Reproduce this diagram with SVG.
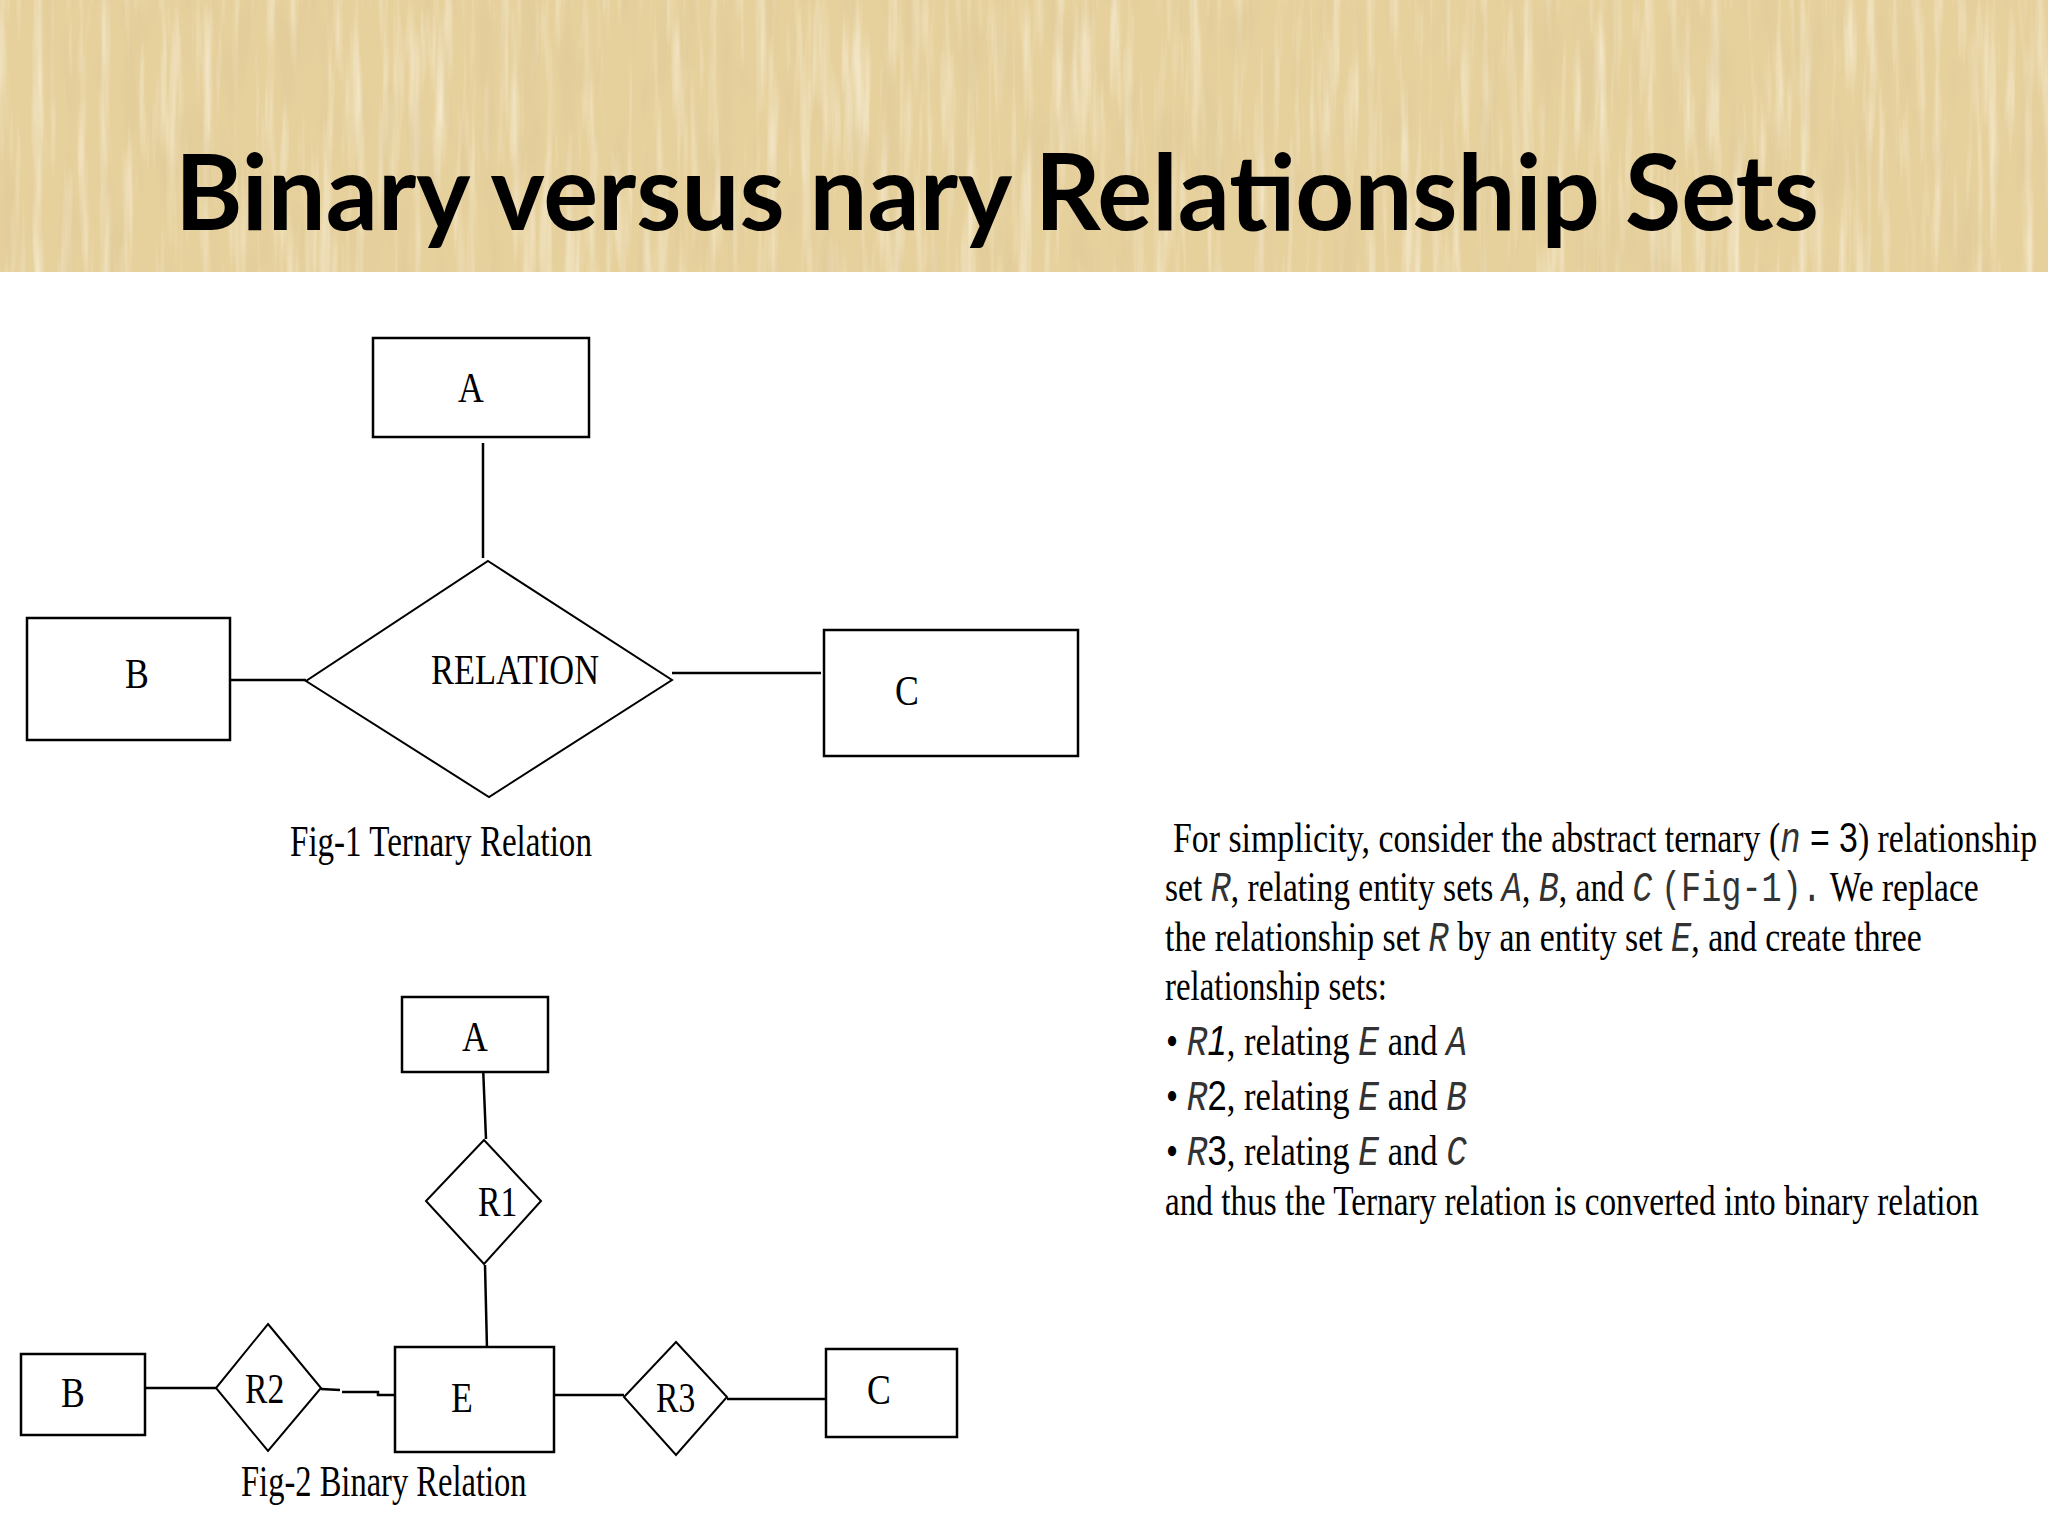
<svg xmlns="http://www.w3.org/2000/svg" width="2048" height="1536" viewBox="0 0 2048 1536">
<defs>
<style>
.ent{fill:#fff;stroke:#000;stroke-width:2.5}
.rel{fill:#fff;stroke:#000;stroke-width:2}
.con{fill:none;stroke:#000;stroke-width:2.5}
.lbl{font-family:"Liberation Serif","Times New Roman",serif;font-size:42px;fill:#000}
.cap{font-family:"Liberation Serif","Times New Roman",serif;font-size:44px;fill:#000}
.body{font-family:"Liberation Serif","Times New Roman",serif;font-size:42px;fill:#000}
.m{font-family:"Liberation Mono","Courier New",monospace;font-style:italic;fill:#333}
.mn{font-family:"Liberation Mono","Courier New",monospace;fill:#333}
.s{font-family:"Liberation Sans",Arial,sans-serif}
.title{font-family:Lato,"Open Sans",sans-serif;font-weight:bold;font-size:106px;fill:#000}
</style>
<filter id="streakLight" x="0" y="0" width="100%" height="100%">
<feTurbulence type="fractalNoise" baseFrequency="0.09 0.006" numOctaves="3" seed="4"/>
<feColorMatrix type="matrix" values="0 0 0 0 1  0 0 0 0 0.97  0 0 0 0 0.86  1.4 0 0 0 -0.68"/>
</filter>
<filter id="streakDark" x="0" y="0" width="100%" height="100%">
<feTurbulence type="fractalNoise" baseFrequency="0.05 0.01" numOctaves="2" seed="9"/>
<feColorMatrix type="matrix" values="0 0 0 0 0.72  0 0 0 0 0.58  0 0 0 0 0.32  0 1.4 0 0 -0.68"/>
</filter>
</defs>
<rect x="0" y="0" width="2048" height="1536" fill="#fff"/>
<g id="header">
<rect x="0" y="0" width="2048" height="272" fill="#e6d09c"/>
<rect x="0" y="0" width="2048" height="272" filter="url(#streakLight)"/>
<rect x="0" y="0" width="2048" height="272" filter="url(#streakDark)"/>
<text class="title" x="175" y="230" textLength="1644" lengthAdjust="spacingAndGlyphs">Binary versus nary Relationship Sets</text>
</g>
<g id="connectors">
<line class="con" x1="483" y1="443" x2="483" y2="558"/>
<line class="con" x1="231" y1="680" x2="306" y2="680"/>
<line class="con" x1="672" y1="673" x2="821" y2="673"/>
<polyline class="con" points="483,1066 486,1139"/>
<polyline class="con" points="485,1265 487,1349"/>
<line class="con" x1="145" y1="1388" x2="216" y2="1388"/>
<polyline class="con" points="321,1389 340,1390"/>
<polyline class="con" points="342,1392 378,1392 378,1395 395,1395"/>
<line class="con" x1="554" y1="1395" x2="624" y2="1395"/>
<line class="con" x1="727" y1="1399" x2="826" y2="1399"/>
</g>
<g id="fig1-A">
<rect class="ent" x="373" y="338" width="216" height="99"/>
<text class="lbl" transform="translate(471,402) scale(0.85,1)" text-anchor="middle">A</text>
</g>
<g id="fig1-B">
<rect class="ent" x="27" y="618" width="203" height="122"/>
<text class="lbl" transform="translate(137,688) scale(0.85,1)" text-anchor="middle">B</text>
</g>
<g id="fig1-C">
<rect class="ent" x="824" y="630" width="254" height="126"/>
<text class="lbl" transform="translate(907,705) scale(0.85,1)" text-anchor="middle">C</text>
</g>
<g id="fig1-RELATION">
<polygon class="rel" points="488,561 672,680 489,797 306,681"/>
<text class="lbl" transform="translate(431,684) scale(0.8,1)" textLength="210" lengthAdjust="spacingAndGlyphs">RELATION</text>
</g>
<text id="fig1-caption" class="cap" transform="translate(290,856) scale(0.74,1)" textLength="408" lengthAdjust="spacingAndGlyphs">Fig-1 Ternary Relation</text>
<g id="fig2-A">
<rect class="ent" x="402" y="997" width="146" height="75"/>
<text class="lbl" transform="translate(475,1051) scale(0.85,1)" text-anchor="middle">A</text>
</g>
<g id="fig2-R1">
<polygon class="rel" points="484,1140 541,1201 484,1264 426,1201"/>
<text class="lbl" transform="translate(478,1216) scale(0.8,1)" textLength="49" lengthAdjust="spacingAndGlyphs">R1</text>
</g>
<g id="fig2-E">
<rect class="ent" x="395" y="1347" width="159" height="105"/>
<text class="lbl" transform="translate(462,1412) scale(0.85,1)" text-anchor="middle">E</text>
</g>
<g id="fig2-B">
<rect class="ent" x="21" y="1354" width="124" height="81"/>
<text class="lbl" transform="translate(73,1407) scale(0.85,1)" text-anchor="middle">B</text>
</g>
<g id="fig2-R2">
<polygon class="rel" points="268,1324 321,1388 268,1451 216,1388"/>
<text class="lbl" transform="translate(245,1403) scale(0.8,1)" textLength="49" lengthAdjust="spacingAndGlyphs">R2</text>
</g>
<g id="fig2-R3">
<polygon class="rel" points="676,1342 727,1397 676,1455 624,1397"/>
<text class="lbl" transform="translate(656,1412) scale(0.8,1)" textLength="49" lengthAdjust="spacingAndGlyphs">R3</text>
</g>
<g id="fig2-C">
<rect class="ent" x="826" y="1349" width="131" height="88"/>
<text class="lbl" transform="translate(879,1404) scale(0.85,1)" text-anchor="middle">C</text>
</g>
<text id="fig2-caption" class="cap" transform="translate(241,1496) scale(0.74,1)" textLength="386" lengthAdjust="spacingAndGlyphs">Fig-2 Binary Relation</text>
<g id="description" class="body">
<text transform="translate(1173,852) scale(0.79,1)" textLength="1094" lengthAdjust="spacingAndGlyphs">For simplicity, consider the abstract ternary (<tspan class="m">n</tspan><tspan class="s"> = 3</tspan>) relationship</text>
<text transform="translate(1165,901) scale(0.79,1)" textLength="1030" lengthAdjust="spacingAndGlyphs">set <tspan class="m">R</tspan>, relating entity sets <tspan class="m">A</tspan>, <tspan class="m">B</tspan>, and <tspan class="m">C</tspan> <tspan class="mn">(Fig-1).</tspan> We replace</text>
<text transform="translate(1165,951) scale(0.79,1)" textLength="958" lengthAdjust="spacingAndGlyphs">the relationship set <tspan class="m">R</tspan>  by an entity set <tspan class="m">E</tspan>, and create three</text>
<text transform="translate(1165,1000) scale(0.79,1)" textLength="281" lengthAdjust="spacingAndGlyphs">relationship sets:</text>
<text transform="translate(1166,1055) scale(0.79,1)" textLength="381" lengthAdjust="spacingAndGlyphs">• <tspan class="m">R</tspan><tspan class="s" font-style="italic">1</tspan>, relating <tspan class="m">E</tspan>  and <tspan class="m">A</tspan></text>
<text transform="translate(1166,1110) scale(0.79,1)" textLength="381" lengthAdjust="spacingAndGlyphs">• <tspan class="m">R</tspan><tspan class="s">2</tspan>, relating <tspan class="m">E</tspan>  and <tspan class="m">B</tspan></text>
<text transform="translate(1166,1165) scale(0.79,1)" textLength="381" lengthAdjust="spacingAndGlyphs">• <tspan class="m">R</tspan><tspan class="s">3</tspan>, relating <tspan class="m">E</tspan>  and <tspan class="m">C</tspan></text>
<text transform="translate(1165,1215) scale(0.79,1)" textLength="1030" lengthAdjust="spacingAndGlyphs">and thus the Ternary relation is converted into binary relation</text>
</g>
</svg>
